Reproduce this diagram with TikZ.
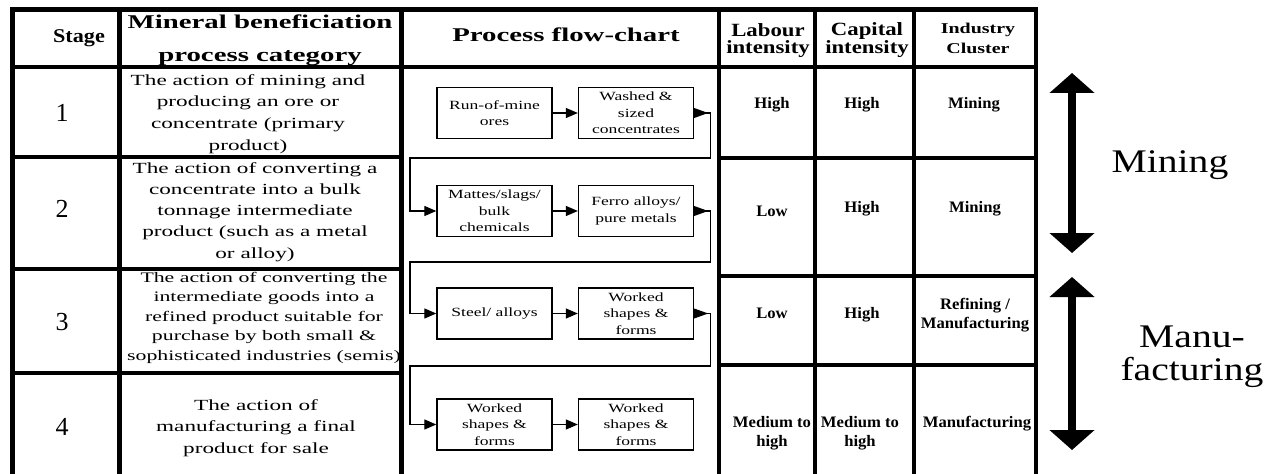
\documentclass[tikz,border=0pt]{standalone}
\usepackage{fontspec}
\setmainfont{Liberation Serif}
\newfontfamily\fsBody[FakeStretch=1.5]{Liberation Serif}
\newfontfamily\fsHead[FakeStretch=1.48]{Liberation Serif}
\newfontfamily\fsStage[FakeStretch=1.14]{Liberation Serif}
\newfontfamily\fsInt[FakeStretch=1.22]{Liberation Serif}
\newfontfamily\fsInd[FakeStretch=1.33]{Liberation Serif}
\newfontfamily\fsBox[FakeStretch=1.4]{Liberation Serif}
\newfontfamily\fsData[FakeStretch=1.04]{Liberation Serif}
\newfontfamily\fsBig[FakeStretch=1.2]{Liberation Serif}
\usetikzlibrary{arrows.meta}
\tikzset{
  tbl/.style={line width=3.4pt, line cap=rect},
  hdr/.style={inner sep=0pt, align=center, font={\fsHead\bfseries\fontsize{14.6pt}{24.75pt}\selectfont}},
  hdrint/.style={inner sep=0pt, align=center, font={\fsInt\bfseries\fontsize{14pt}{13pt}\selectfont}},
  hdrind/.style={inner sep=0pt, align=center, font={\fsInd\bfseries\fontsize{11.25pt}{15pt}\selectfont}},
  body/.style={inner sep=0pt, align=center, font={\fsBody\fontsize{11.6pt}{16pt}\selectfont}},
  stagenum/.style={inner sep=0pt, font={\fontsize{19.5pt}{22pt}\selectfont}},
  flowbox/.style={draw, line width=1pt, minimum width=86.25pt, minimum height=38.25pt, inner sep=1pt, align=center, font={\fsBox\fontsize{9.4pt}{12.4pt}\selectfont}},
  flow/.style={line width=0.9pt, -{Triangle[length=9pt,width=7.5pt]}},
  data/.style={inner sep=0pt, align=center, font={\fsData\bfseries\fontsize{12pt}{14.25pt}\selectfont}},
  bigtext/.style={inner sep=0pt, align=center, font={\fsBig\fontsize{24.75pt}{25.1pt}\selectfont}},
  bigarrow/.style={line width=6pt, {Triangle[length=15pt,width=33pt]}-{Triangle[length=15pt,width=33pt]}}
}
\begin{document}
\begin{tikzpicture}[x=0.75pt, y=-0.75pt]
\useasboundingbox (0,0) rectangle (1274,474);

% table grid
\draw[tbl] (12.5,9.5) -- (1036,9.5);
\foreach \xx in {12.5,119.5,401.5,719,815,914,1036}
  \draw[tbl] (\xx,9.5) -- (\xx,476);
\draw[tbl] (12.5,67) -- (1036,67);
\foreach \yy in {157,269,373}
  \draw[tbl] (12.5,\yy) -- (401.5,\yy);
\foreach \yy in {158,276,365}
  \draw[tbl] (719,\yy) -- (1036,\yy);

% header
\node[hdr, anchor=base, font={\fsStage\bfseries\fontsize{14.6pt}{24.75pt}\selectfont}] (hStage) at (79,43) {Stage};
\node[hdr] (hCat) at (260,40) {Mineral beneficiation\\process category};
\node[hdr, anchor=base] (hFlow) at (566,42) {Process flow-chart};
\node[hdrint] (hLab) at (768,40.5) {Labour\\intensity};
\node[hdrint] (hCap) at (867,40) {Capital\\intensity};
\node[hdrind] (hInd) at (978,38) {Industry\\Cluster};

% stage numbers
\node[stagenum, anchor=base] (n1) at (62,122) {1};
\node[stagenum, anchor=base] (n2) at (62,217) {2};
\node[stagenum, anchor=base] (n3) at (62,330) {3};
\node[stagenum, anchor=base] (n4) at (62,435) {4};

% categories
\node[body, font={\fsBody\fontsize{11.6pt}{16.3pt}\selectfont}] (c1) at (248,114)
  {The action of mining and\\producing an ore or\\concentrate (primary\\product)};
\node[body, font={\fsBody\fontsize{11.6pt}{15.9pt}\selectfont}] (c2) at (255,212)
  {The action of converting a\\concentrate into a bulk\\tonnage intermediate\\product (such as a metal\\or alloy)};
\node[body, font={\fsBody\fontsize{10.9pt}{14.6pt}\selectfont}] (c3) at (264,317.5)
  {The action of converting the\\intermediate goods into a\\refined product suitable for\\purchase by both small \&\\sophisticated industries (semis)};
\node[body, font={\fsBody\fontsize{11.6pt}{15.9pt}\selectfont}] (c4) at (256,428)
  {The action of\\manufacturing a final\\product for sale};

% flow chart boxes
\node[flowbox] (r1) at (494.5,113) {Run-of-mine\\ores};
\node[flowbox] (w1) at (636,113) {Washed \&\\sized\\concentrates};
\node[flowbox] (m1) at (494.5,211) {Mattes/slags/\\bulk\\chemicals};
\node[flowbox] (f1) at (636,211) {Ferro alloys/\\pure metals};
\node[flowbox] (s1) at (494.5,313.5) {Steel/ alloys};
\node[flowbox] (w2) at (636,313.5) {Worked\\shapes \&\\forms};
\node[flowbox] (w3) at (494.5,424.5) {Worked\\shapes \&\\forms};
\node[flowbox] (w4) at (636,424.5) {Worked\\shapes \&\\forms};

\coordinate (k1) at (410,158);
\coordinate (k2) at (410,262);
\coordinate (k3) at (410,366);

\draw[flow] (r1) -- (w1);
\draw[flow] (m1) -- (f1);
\draw[flow] (s1) -- (w2);
\draw[flow] (w3) -- (w4);

\fill ([yshift=3.75pt]w1.east) -- ([yshift=-3.75pt]w1.east) -- ([xshift=10.5pt]w1.east) -- cycle;
\fill ([yshift=3.75pt]f1.east) -- ([yshift=-3.75pt]f1.east) -- ([xshift=10.5pt]f1.east) -- cycle;
\fill ([yshift=3.75pt]w2.east) -- ([yshift=-3.75pt]w2.east) -- ([xshift=10.5pt]w2.east) -- cycle;
\draw[flow] (w1.east) -- ++(16,0) |- (k1) |- (m1.west);
\draw[flow] (f1.east) -- ++(16,0) |- (k2) |- (s1.west);
\draw[flow] (w2.east) -- ++(16,0) |- (k3) |- (w3.west);

% data cells
\node[data, anchor=base] (l1) at (772,109) {High};
\node[data, anchor=base] (p1) at (862,109) {High};
\node[data, anchor=base] (i1) at (974,109) {Mining};
\node[data, anchor=base] (l2) at (772,216) {Low};
\node[data, anchor=base] (p2) at (862,213) {High};
\node[data, anchor=base] (i2) at (975,213) {Mining};
\node[data, anchor=base] (l3) at (772,318) {Low};
\node[data, anchor=base] (p3) at (862,318) {High};
\node[data] (i3) at (975,315) {Refining /\\Manufacturing};
\node[data] (l4) at (772,433) {Medium to\\high};
\node[data] (p4) at (860,433) {Medium to\\high};
\node[data, anchor=base] (i4) at (977,427) {Manufacturing};

% right side
\coordinate (ma1) at (1072,73);
\coordinate (ma2) at (1072,253);
\coordinate (mb1) at (1072,277);
\coordinate (mb2) at (1072,450);
\draw[bigarrow] (ma1) -- (ma2);
\draw[bigarrow] (mb1) -- (mb2);
\node[bigtext, anchor=base] (tMin) at (1170,173) {Mining};
\node[bigtext] (tMan) at (1192,357) {Manu-\\facturing};
\end{tikzpicture}
\end{document}
